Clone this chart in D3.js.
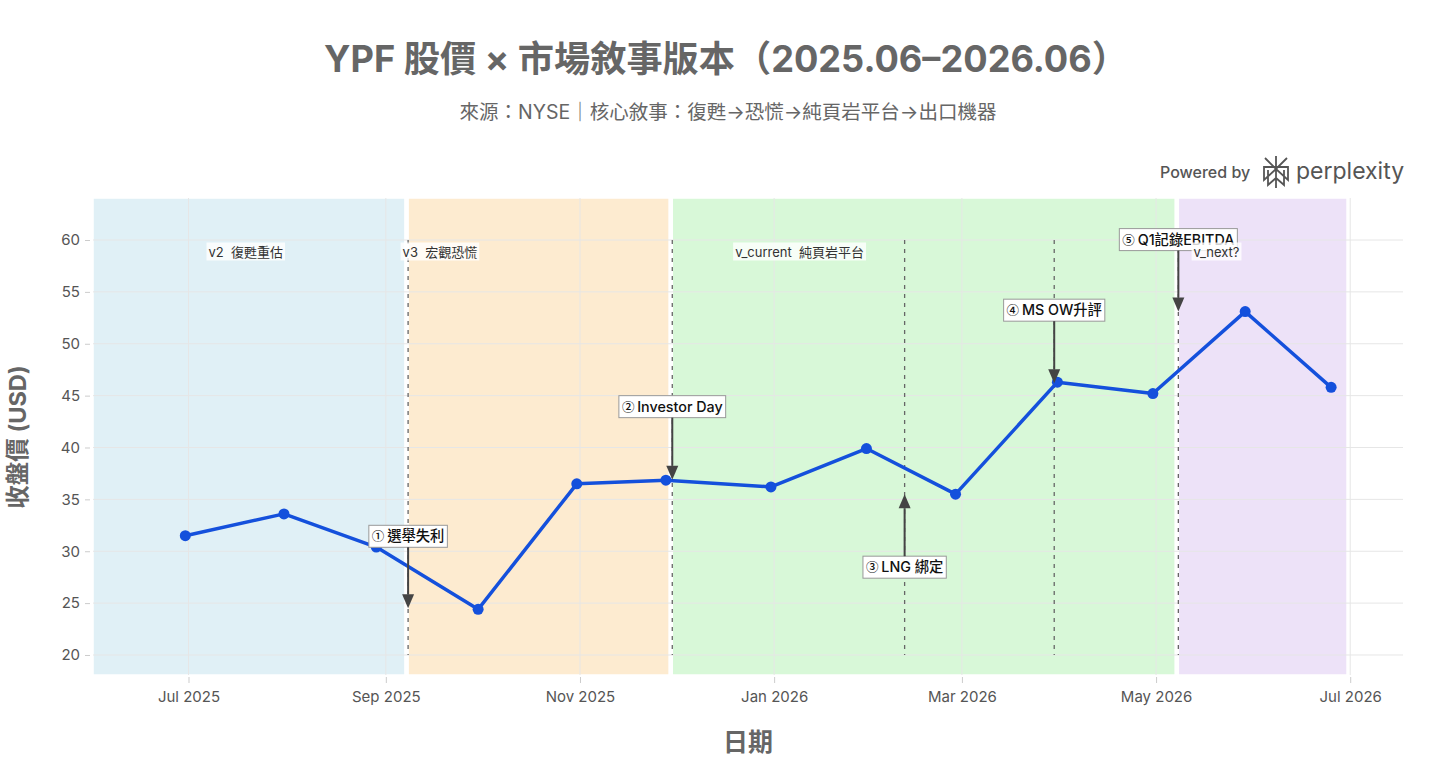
<!DOCTYPE html>
<html>
<head>
<meta charset="utf-8">
<script src="https://cdn.jsdelivr.net/npm/d3@7"></script>
<style>
  body { margin: 0; background: #fff; }
  svg { display: block; font-family: Inter, "Noto Sans CJK TC", sans-serif; }
  .pre { white-space: pre; }
</style>
</head>
<body>
<svg width="1456" height="768"></svg>
<script>
// closing prices, month end
const dates = ['2025-06-30', '2025-07-31', '2025-08-29', '2025-09-30', '2025-10-31', '2025-11-28',
  '2025-12-31', '2026-01-30', '2026-02-27', '2026-03-31', '2026-04-30', '2026-05-29', '2026-06-25']
const prices = [31.5, 33.6, 30.4, 24.4, 36.5, 36.85, 36.2, 39.9, 35.5, 46.3, 45.2, 53.1, 45.8]

// narrative bands
const bandNames = ['v2  復甦重估', 'v3  宏觀恐慌', 'v_current  純頁岩平台', 'v_next?']
const bandStarts = ['2025-06-01', '2025-09-08', '2025-11-30', '2026-05-08']
const bandEnds = ['2025-09-07', '2025-11-29', '2026-05-07', '2026-06-30']
const bandLabelDates = ['2025-07-19', '2025-09-18', '2026-01-09', '2026-05-20']
const bandColours = ['#e0f0f6', '#fdebd0', '#d8f8d8', '#ede2f8']

// events
const eventDates = ['2025-09-08', '2025-11-30', '2026-02-11', '2026-03-30', '2026-05-08']
const eventNums = ['①', '②', '③', '④', '⑤']
const eventLabels = ['選舉失利', 'Investor Day', 'LNG 綁定', 'MS OW升評', 'Q1記錄EBITDA']
const eventValues = [24.5, 36.9, 35.5, 46.2, 53.1]
const eventOffsets = [-72, -73, 73, -73, -72]

const yTicks = [20, 25, 30, 35, 40, 45, 50, 55, 60]

const parse = d3.timeParse('%Y-%m-%d')
const svg = d3.select('svg')

const plotLeft = 93, plotRight = 1403, plotTop = 198, plotBottom = 675

const x = d3.scaleTime()
  .domain([parse('2025-06-01'), new Date(2026, 6, 17, 14)])
  .range([plotLeft, plotRight])
const y = d3.scaleLinear()
  .domain([18.07, 64.05])
  .range([plotBottom, plotTop])

// titles
svg.append('text')
  .attr('x', 726).attr('y', 72)
  .attr('text-anchor', 'middle')
  .attr('font-size', 36.2).attr('font-weight', 700)
  .attr('fill', '#666')
  .text('YPF 股價 × 市場敘事版本（2025.06–2026.06）')

svg.append('text')
  .attr('x', 728).attr('y', 119)
  .attr('text-anchor', 'middle')
  .attr('font-size', 19.5)
  .attr('fill', '#666')
  .text('來源：NYSE｜核心敘事：復甦→恐慌→純頁岩平台→出口機器')

// bands
const bands = bandNames.map((name, i) => ({
  name, start: parse(bandStarts[i]), end: parse(bandEnds[i]), labelAt: parse(bandLabelDates[i]), colour: bandColours[i]
}))

svg.append('g').selectAll('rect')
  .data(bands)
  .enter()
  .append('rect')
  .attr('x', d => x(d.start))
  .attr('width', d => x(d.end) - x(d.start))
  .attr('y', plotTop)
  .attr('height', plotBottom - plotTop)
  .attr('fill', d => d.colour)
  .attr('stroke', '#fff')
  .attr('stroke-width', 1.5)

// grid
const grid = svg.append('g')
grid.selectAll('line.h')
  .data(yTicks)
  .enter()
  .append('line')
  .attr('x1', plotLeft).attr('x2', plotRight)
  .attr('y1', d => y(d)).attr('y2', d => y(d))
  .attr('stroke', '#e6e6e6').attr('stroke-width', 1)

const xTicks = d3.timeMonth.every(2).range(parse('2025-07-01'), parse('2026-07-02'))
grid.selectAll('line.v')
  .data(xTicks)
  .enter()
  .append('line')
  .attr('x1', d => x(d)).attr('x2', d => x(d))
  .attr('y1', plotTop).attr('y2', plotBottom)
  .attr('stroke', '#e6e6e6').attr('stroke-width', 1)

// axes
const yAxis = d3.axisLeft(y)
  .tickValues(yTicks)
  .tickSize(5)
  .tickPadding(5)
const gy = svg.append('g')
  .attr('transform', `translate(${plotLeft - 3},0)`)
  .call(yAxis)
gy.select('.domain').remove()
gy.selectAll('line').attr('stroke', '#ccc')
gy.selectAll('text').attr('font-size', 15).attr('fill', '#555').attr('font-family', 'Inter, sans-serif')

const xAxis = d3.axisBottom(x)
  .tickValues(xTicks)
  .tickFormat(d3.timeFormat('%b %Y'))
  .tickSize(6)
  .tickPadding(8)
const gx = svg.append('g')
  .attr('transform', `translate(0,${plotBottom + 2})`)
  .call(xAxis)
gx.select('.domain').remove()
gx.selectAll('line').attr('stroke', '#ccc')
gx.selectAll('text').attr('font-size', 15).attr('fill', '#555').attr('font-family', 'Inter, sans-serif')

// axis titles
svg.append('text')
  .attr('x', 748).attr('y', 751)
  .attr('text-anchor', 'middle')
  .attr('font-size', 25).attr('font-weight', 700)
  .attr('fill', '#666')
  .text('日期')

svg.append('text')
  .attr('transform', 'translate(26,437) rotate(-90)')
  .attr('text-anchor', 'middle')
  .attr('font-size', 23.5).attr('font-weight', 700)
  .attr('fill', '#666')
  .text('收盤價 (USD)')

// event lines
const events = eventLabels.map((label, i) => ({
  num: eventNums[i], label, date: parse(eventDates[i]), value: eventValues[i], offset: eventOffsets[i]
}))

svg.append('g').selectAll('line')
  .data(events)
  .enter()
  .append('line')
  .attr('x1', d => x(d.date)).attr('x2', d => x(d.date))
  .attr('y1', y(60)).attr('y2', y(20))
  .attr('stroke', '#666')
  .attr('stroke-width', 1.3)
  .attr('stroke-dasharray', '4,5')

// price line
const line = d3.line()
  .x(d => x(d.date))
  .y(d => y(d.price))
const series = dates.map((d, i) => ({ date: parse(d), price: prices[i] }))

svg.append('path')
  .datum(series)
  .attr('d', line)
  .attr('fill', 'none')
  .attr('stroke', '#1450dc')
  .attr('stroke-width', 3.5)
  .attr('stroke-linejoin', 'round')

svg.append('g').selectAll('circle')
  .data(series)
  .enter()
  .append('circle')
  .attr('cx', d => x(d.date))
  .attr('cy', d => y(d.price))
  .attr('r', 5.5)
  .attr('fill', '#1450dc')

// annotations
const ann = svg.append('g').selectAll('g')
  .data(events)
  .enter()
  .append('g')

ann.each(function (d) {
  const g = d3.select(this)
  const tx = x(d.date), ty = y(d.value)
  const by = ty + d.offset
  const dir = d.offset < 0 ? 1 : -1   // arrow points down if box is above
  const label = g.append('g').attr('transform', `translate(${tx},${by})`)
  const rect = label.append('rect')
  const t = label.append('text')
    .attr('class', 'pre')
    .attr('text-anchor', 'middle')
    .attr('dy', '0.36em')
    .attr('font-size', 14.3)
    .attr('font-weight', 500)
    .attr('fill', '#111')
  t.append('tspan')
    .attr('font-family', '"Noto Sans CJK TC"')
    .attr('font-size', 12.5)
    .text(d.num + ' ')
  t.append('tspan').text(d.label)
  const bb = t.node().getBBox()
  rect.attr('x', bb.x - 3).attr('y', -11)
    .attr('width', bb.width + 6).attr('height', 22)
    .attr('fill', '#fff')
    .attr('stroke', '#999').attr('stroke-width', 1)
  // arrow
  const start = by + dir * 11
  const tipBase = ty - dir * 14
  g.append('line')
    .attr('x1', tx).attr('x2', tx)
    .attr('y1', start).attr('y2', tipBase)
    .attr('stroke', '#444').attr('stroke-width', 2)
  g.append('path')
    .attr('d', `M${tx - 6},${tipBase} L${tx + 6},${tipBase} L${tx},${ty} Z`)
    .attr('fill', '#444')
})

// band labels (drawn last, they sit on top of the annotations as in the source)
const bandLabelG = svg.append('g').selectAll('g')
  .data(bands)
  .enter()
  .append('g')
  .attr('transform', d => `translate(${x(d.labelAt)},${y(58.85)})`)
bandLabelG.append('rect').attr('class', 'bg')
  .attr('fill', 'rgba(255,255,255,0.8)')
bandLabelG.append('text')
  .attr('class', 'pre')
  .attr('text-anchor', 'middle')
  .attr('dy', '0.35em')
  .attr('font-size', 13)
  .attr('fill', '#333')
  .text(d => d.name)
bandLabelG.each(function () {
  const g = d3.select(this)
  const bb = g.select('text').node().getBBox()
  g.select('rect.bg')
    .attr('x', bb.x - 2).attr('y', bb.y - 1)
    .attr('width', bb.width + 4).attr('height', bb.height + 2)
})

// logo
const logo = svg.append('g').attr('fill', '#555')
logo.append('text')
  .attr('x', 1160).attr('y', 178)
  .attr('font-size', 16).attr('font-weight', 500)
  .text('Powered by')
logo.append('text')
  .attr('x', 1296).attr('y', 179)
  .attr('font-size', 23).attr('font-weight', 400)
  .text('perplexity')
logo.append('path')
  .attr('d', 'M1276,156 L1276,188 M1265,158 L1276,169 L1287,158 M1264,167 L1288,167 L1288,180 L1276,169 L1264,180 Z M1268,170 L1268,185 L1276,178 M1284,170 L1284,185 L1276,178')
  .attr('fill', 'none')
  .attr('stroke', '#555')
  .attr('stroke-width', 1.8)
</script>
</body>
</html>
